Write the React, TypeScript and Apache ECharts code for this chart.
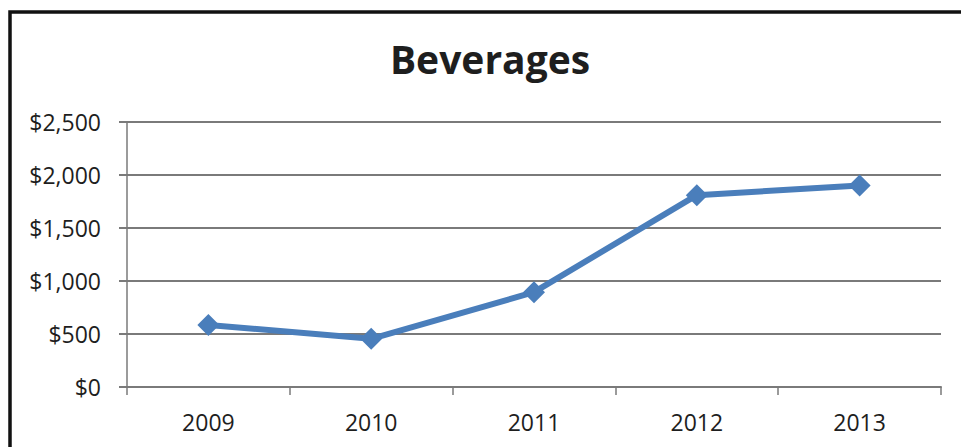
import React, { useEffect, useRef } from "react";
import * as echarts from "echarts";

const categories = ["2009", "2010", "2011", "2012", "2013"];
const beverages = [585, 455, 895, 1810, 1900];
const yTicks = { min: 0, max: 2500, interval: 500 };
const titleText = "Beverages";

const FONT = "'Open Sans', 'Noto Sans', sans-serif";

export default function App() {
  const ref = useRef<HTMLDivElement>(null);
  useEffect(() => {
    if (!ref.current) return;
    const chart = echarts.init(ref.current, undefined, { renderer: "svg" });
    chart.setOption({
      animation: false,
      backgroundColor: "#ffffff",
      title: {
        text: titleText,
        left: 485,
        top: 34,
        textAlign: "center",
        textStyle: { fontFamily: FONT, fontWeight: "bold", fontSize: 39, color: "#1e1e1e" },
      },
      graphic: [
        {
          type: "rect",
          shape: { x: 10, y: 12, width: 1000, height: 500 },
          style: { fill: "none", stroke: "#111", lineWidth: 3.5 },
          silent: true,
        },
      ],
      grid: { left: 127, right: 20, top: 122, bottom: 60 },
      xAxis: {
        type: "category",
        data: categories,
        boundaryGap: true,
        axisLine: { show: true, lineStyle: { color: "#7a7a7a", width: 2 } },
        axisTick: { show: true, length: 8, alignWithLabel: false, lineStyle: { color: "#7a7a7a", width: 1.5 } },
        axisLabel: { fontFamily: FONT, fontSize: 23, color: "#1e1e1e", margin: 23 },
        splitLine: { show: false },
      },
      yAxis: {
        type: "value",
        min: yTicks.min,
        max: yTicks.max,
        interval: yTicks.interval,
        axisLine: { show: true, lineStyle: { color: "#7a7a7a", width: 1.5 } },
        axisTick: { show: true, length: 8, lineStyle: { color: "#7a7a7a", width: 2 } },
        splitLine: { show: true, lineStyle: { color: "#7a7a7a", width: 2 } },
        axisLabel: {
          fontFamily: FONT,
          fontSize: 23,
          color: "#1e1e1e",
          margin: 26,
          formatter: (v: number) => "$" + v.toLocaleString("en-US"),
        },
      },
      series: [
        {
          type: "line",
          data: beverages,
          lineStyle: { color: "#4A7EBB", width: 6 },
          itemStyle: { color: "#4A7EBB" },
          symbol: "diamond",
          symbolSize: 22,
          showSymbol: true,
        },
      ],
    });
    return () => chart.dispose();
  }, []);
  return (
    <div
      ref={ref}
      style={{ position: "fixed", left: 0, top: 0, width: 961, height: 447 }}
    />
  );
}
